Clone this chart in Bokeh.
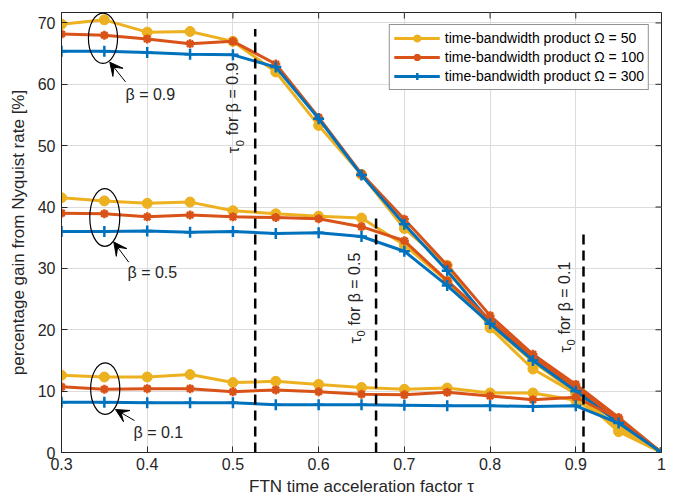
import math
from bokeh.plotting import figure
from bokeh.models import (Range1d, FixedTicker, Arrow, VeeHead,
                          Legend, LegendItem, ColumnDataSource)
from bokeh.core.properties import value
from bokeh.embed import file_html
from bokeh.resources import INLINE

# ---------------- data ----------------
tau = [0.3, 0.35, 0.4, 0.45, 0.5, 0.55, 0.6, 0.65, 0.7, 0.75, 0.8, 0.85, 0.9, 0.95, 1.0]

# beta = 0.9
b09_om50 = [69.8, 70.5, 68.5, 68.6, 67.0, 62.0, 53.3, 45.3, 36.5, 30.5, 20.3, 13.6, 9.6, 3.4, 0]
b09_om100 = [68.2, 68.0, 67.4, 66.6, 67.0, 63.3, 54.6, 45.4, 38.0, 30.5, 22.3, 16.0, 11.1, 5.7, 0]
b09_om300 = [65.4, 65.4, 65.2, 64.9, 64.8, 62.8, 54.4, 45.2, 37.2, 29.6, 21.3, 15.4, 10.2, 4.9, 0]
# beta = 0.5
b05_om50 = [41.5, 41.0, 40.6, 40.8, 39.4, 38.9, 38.5, 38.2, 33.8, 27.9, 20.8, 14.8, 9.8, 3.9, 0]
b05_om100 = [39.0, 38.9, 38.4, 38.7, 38.4, 38.3, 38.1, 36.8, 34.5, 28.0, 21.6, 15.6, 10.6, 5.4, 0]
b05_om300 = [36.0, 36.0, 36.1, 35.9, 36.0, 35.7, 35.8, 35.2, 32.8, 27.2, 21.0, 15.0, 10.0, 4.8, 0]
# beta = 0.1
b01_om50 = [12.6, 12.3, 12.3, 12.7, 11.4, 11.6, 11.1, 10.6, 10.3, 10.5, 9.7, 9.7, 8.5, 4.2, 0]
b01_om100 = [10.7, 10.3, 10.4, 10.4, 9.9, 10.2, 9.9, 9.5, 9.4, 9.8, 9.2, 8.6, 9.0, 5.5, 0]
b01_om300 = [8.2, 8.2, 8.1, 8.1, 8.1, 7.8, 7.8, 7.8, 7.7, 7.6, 7.6, 7.5, 7.6, 4.8, 0]

series_labels = ["time-bandwidth product \u03a9 = 50",
                 "time-bandwidth product \u03a9 = 100",
                 "time-bandwidth product \u03a9 = 300"]

betas = ["0.9", "0.5", "0.1"]
tau0 = [0.526, 0.667, 0.909]
tau0_top = [69.0, 39.0, 36.0]

x_ticks = [0.3, 0.4, 0.5, 0.6, 0.7, 0.8, 0.9, 1.0]
x_tick_labels = ["0.3", "0.4", "0.5", "0.6", "0.7", "0.8", "0.9", "1"]
y_ticks = [0, 10, 20, 30, 40, 50, 60, 70]
X_MIN, X_MAX, Y_MIN, Y_MAX = 0.3, 1.0, 0, 71.7

# annotation geometry (data coords)
tau0_lab_x = [0.4995, 0.6418, 0.8868]   # centre line of rotated label
tau0_lab_y = [48.75, 17.77, 16.3]       # bottom end of rotated label
ell_x = [0.3484, 0.3505, 0.351]
ell_y = [67.5, 38.3, 10.4]
ell_w = [0.034, 0.035, 0.034]
ell_h = [8.2, 9.4, 8.4]
arr_x0 = [0.3747, 0.3785, 0.3852]
arr_y0 = [60.4, 31.0, 5.2]
arr_x1 = [0.3564, 0.3610, 0.3630]
arr_y1 = [63.6, 34.3, 7.0]
blab_x = [0.3747, 0.377, 0.384]
blab_y = [58.4, 29.4, 3.3]

# ---------------- styles ----------------
FONT = "Liberation Sans"
AX = "#262626"
colors = ["#EDB120", "#D95319", "#0072BD"]

p = figure(width=667, height=498, x_range=Range1d(X_MIN, X_MAX), y_range=Range1d(Y_MIN, Y_MAX),
           output_backend="svg", toolbar_location=None,
           min_border_left=61, min_border_right=6, min_border_top=12, min_border_bottom=46)

p.outline_line_color = AX
p.outline_line_width = 1
p.background_fill_color = "white"

for ax in [p.xaxis[0], p.yaxis[0]]:
    ax.axis_line_color = AX
    ax.major_tick_line_color = AX
    ax.major_tick_in = 6
    ax.major_tick_out = 0
    ax.minor_tick_in = 0
    ax.minor_tick_out = 0
    ax.major_label_text_font = FONT
    ax.major_label_text_font_size = "16px"
    ax.major_label_text_color = AX
    ax.axis_label_text_font = FONT
    ax.axis_label_text_font_size = "17px"
    ax.axis_label_text_font_style = "normal"
    ax.axis_label_text_color = AX

p.xaxis.ticker = FixedTicker(ticks=x_ticks)
p.xaxis.major_label_overrides = dict(zip(x_ticks, x_tick_labels))
p.yaxis.ticker = FixedTicker(ticks=y_ticks)
p.xaxis.axis_label = "FTN time acceleration factor \u03c4"
p.yaxis.axis_label = "percentage gain from Nyquist rate [%]"
p.xaxis.major_label_standoff = 5
p.yaxis.major_label_standoff = 6
p.xaxis.axis_label_standoff = 4
p.yaxis.axis_label_standoff = 7

p.xgrid.ticker = FixedTicker(ticks=x_ticks)
p.ygrid.ticker = FixedTicker(ticks=y_ticks)
p.grid.grid_line_color = "#dcdcdc"
p.grid.grid_line_width = 1

# box ticks on top and right (clipped to frame, half visible)
p.scatter(x=x_ticks, y=[Y_MAX] * len(x_ticks), marker="dash", angle=math.pi / 2,
          size=12, line_color=AX, line_width=1)
p.scatter(x=[X_MAX] * len(y_ticks), y=y_ticks, marker="dash", angle=0,
          size=12, line_color=AX, line_width=1)

groups = [
    [b09_om50, b09_om100, b09_om300],
    [b05_om50, b05_om100, b05_om300],
    [b01_om50, b01_om100, b01_om300],
]

legend_refs = []
for gi, grp in enumerate(groups):
    for si, ys in enumerate(grp):
        c = colors[si]
        lr = p.line(tau, ys, line_color=c, line_width=3)
        if si == 0:
            mr = p.scatter(tau, ys, marker="circle", size=10, fill_color=c, line_color=c)
        elif si == 1:
            mr = p.scatter(tau, ys, marker="asterisk", size=9, line_color=c, line_width=2.5)
        else:
            mr = p.scatter(tau, ys, marker="cross", size=11, line_color=c, line_width=2.5)
        if gi == 0:
            legend_refs.append([lr, mr])

# dashed tau0 lines
p.segment(x0=tau0, y0=[0, 0, 0], x1=tau0, y1=tau0_top, line_color="black",
          line_width=2.5, line_dash="10 6")

# rotated labels "tau_0 for beta = b", built from three pieces
n = len(betas)
p.text(x=tau0_lab_x, y=tau0_lab_y, text=["\u03c4"] * n, angle=math.pi / 2,
       text_align="left", text_baseline="middle", text_font=value(FONT),
       text_font_size="16px", text_color=AX, x_offset=1)
p.text(x=tau0_lab_x, y=tau0_lab_y, text=["0"] * n, angle=math.pi / 2,
       text_align="left", text_baseline="middle", text_font=value(FONT),
       text_font_size="11px", text_color=AX, x_offset=7, y_offset=-7)
p.text(x=tau0_lab_x, y=tau0_lab_y, text=["for \u03b2 = " + b for b in betas], angle=math.pi / 2,
       text_align="left", text_baseline="middle", text_font=value(FONT),
       text_font_size="16px", text_color=AX, y_offset=-18)

# ellipses
p.ellipse(x=ell_x, y=ell_y, width=ell_w, height=ell_h, fill_color=None,
          line_color="black", line_width=1.2)

# arrows
asrc = ColumnDataSource(dict(x0=arr_x0, y0=arr_y0, x1=arr_x1, y1=arr_y1))
p.add_layout(Arrow(end=VeeHead(size=13, fill_color="black", line_color="black"),
                   x_start="x0", y_start="y0", x_end="x1", y_end="y1",
                   source=asrc, line_color="black", line_width=1))

p.text(x=blab_x, y=blab_y, text=["\u03b2 = " + b for b in betas], text_align="left",
       text_baseline="middle", text_font=value(FONT), text_font_size="16px", text_color=AX)

legend = Legend(items=[LegendItem(label=series_labels[i], renderers=legend_refs[i]) for i in range(3)],
                location="top_right")
legend.margin = 12
legend.border_line_color = AX
legend.border_line_width = 1
legend.label_text_font = FONT
legend.label_text_font_size = "14px"
legend.label_text_color = "black"
legend.glyph_width = 46
legend.glyph_height = 18
legend.label_height = 18
legend.label_standoff = 5
legend.padding = 4
legend.spacing = 1
p.add_layout(legend, "center")

open("out.html", "w").write(file_html(p, INLINE))
